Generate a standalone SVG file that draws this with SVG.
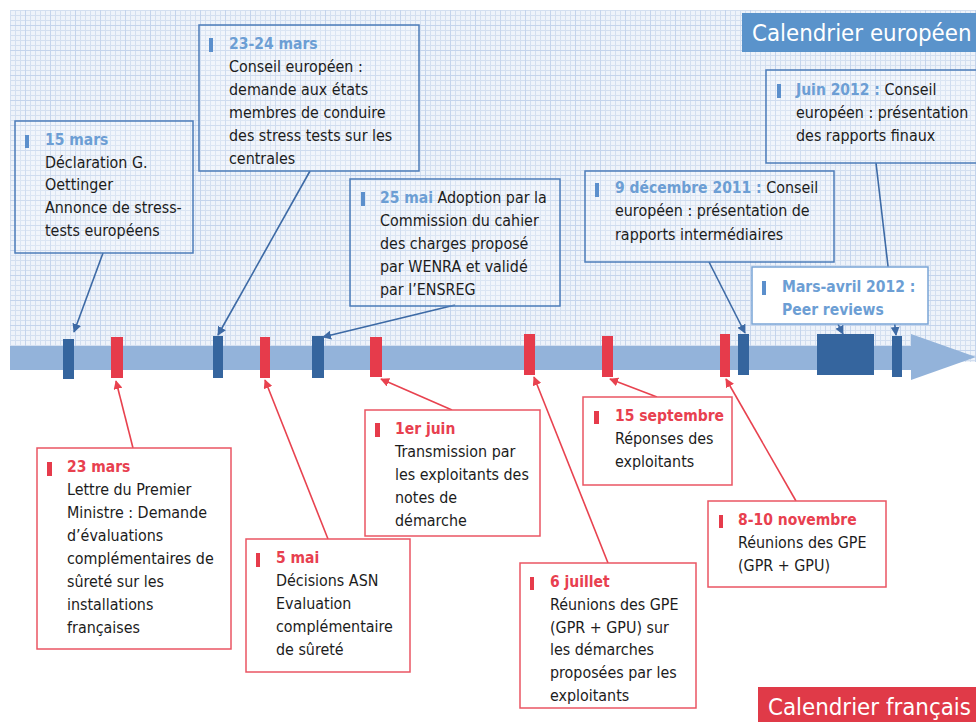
<svg xmlns="http://www.w3.org/2000/svg" width="976" height="722" viewBox="0 0 976 722">
<style>
.t{font-family:"DejaVu Sans Condensed","DejaVu Sans",sans-serif;font-size:15.9px;fill:#1c1c1c}
.db{font-weight:bold;fill:#6c9ed4;font-size:15.5px}
.dr{font-weight:bold;fill:#e8404f;font-size:15.5px}
.bb{fill:#5b8fcc}
.br{fill:#e63b4b}
.boxb{fill:#ffffff;fill-opacity:0.2;stroke:#4c7cb9;stroke-width:1.5}
.boxr{fill:#ffffff;stroke:#ea5563;stroke-width:1.5}
.mb{fill:#35659e}
.mr{fill:#e63b4b}
.cb{stroke:#3d6aa5;stroke-width:1.6;fill:none;marker-end:url(#ab)}
.cr{stroke:#e8424f;stroke-width:1.6;fill:none;marker-end:url(#ar)}
.hd{font-family:"DejaVu Sans Condensed","DejaVu Sans",sans-serif;font-size:23.8px;fill:#ffffff}
</style>
<defs>
<pattern id="g" width="5" height="5" patternUnits="userSpaceOnUse">
<rect width="5" height="5" fill="#eef3fa"/>
<path d="M0,0.5 H5 M0.5,0 V5" stroke="#d3dff0" stroke-width="1"/>
</pattern>
<pattern id="g2" width="25" height="25" patternUnits="userSpaceOnUse">
<path d="M0,0.5 H25 M0.5,0 V25" stroke="#c4d4ec" stroke-width="1"/>
</pattern>
<marker id="ab" viewBox="0 0 10 10" refX="9" refY="5" markerWidth="9" markerHeight="9" markerUnits="userSpaceOnUse" orient="auto">
<path d="M0,0 L10,5 L0,10 z" fill="#3d6aa5"/>
</marker>
<marker id="ar" viewBox="0 0 10 10" refX="9" refY="5" markerWidth="9" markerHeight="9" markerUnits="userSpaceOnUse" orient="auto">
<path d="M0,0 L10,5 L0,10 z" fill="#e8424f"/>
</marker>
</defs>
<rect width="976" height="722" fill="#ffffff"/>
<rect x="10" y="10" width="966" height="352" fill="url(#g)"/>
<rect x="10" y="10" width="966" height="352" fill="url(#g2)"/>

<g id="timeline">
<rect x="10" y="346" width="902" height="24" fill="#93b3da"/>
<polygon points="911,334 976,357 911,380" fill="#93b3da"/>
<rect class="mb" x="63" y="339" width="11" height="40"/>
<rect class="mb" x="213" y="336" width="10" height="42"/>
<rect class="mb" x="312" y="336" width="12" height="42"/>
<rect class="mb" x="738" y="334" width="11" height="41"/>
<rect class="mb" x="817" y="334" width="57" height="41"/>
<rect class="mb" x="892" y="336" width="10" height="41"/>
<rect class="mr" x="111" y="337" width="12" height="41"/>
<rect class="mr" x="260" y="337" width="10" height="41"/>
<rect class="mr" x="370" y="337" width="12" height="40"/>
<rect class="mr" x="524" y="334" width="11" height="41"/>
<rect class="mr" x="602" y="336" width="11" height="41"/>
<rect class="mr" x="720" y="334" width="10" height="43"/>
</g>

<g id="connectors">
<line class="cb" x1="103" y1="253" x2="74" y2="332"/>
<line class="cb" x1="310" y1="171" x2="218" y2="335"/>
<line class="cb" x1="455" y1="305" x2="323" y2="337"/>
<line class="cb" x1="709" y1="262" x2="745" y2="333"/>
<line class="cb" x1="876" y1="163" x2="896" y2="335"/>
<line class="cb" x1="838" y1="324" x2="843" y2="334"/>
<line class="cr" x1="133" y1="448" x2="116" y2="381"/>
<line class="cr" x1="328" y1="539" x2="265" y2="380"/>
<line class="cr" x1="452" y1="410" x2="381" y2="379"/>
<line class="cr" x1="608" y1="563" x2="534" y2="377"/>
<line class="cr" x1="657" y1="397" x2="610" y2="379"/>
<line class="cr" x1="796" y1="501" x2="726" y2="379"/>
</g>

<g id="header-eu">
<rect x="742" y="13" width="240" height="39" fill="#5a93cb"/>
<text class="hd" x="752" y="41">Calendrier européen</text>
</g>

<g id="n-15mars">
<rect class="boxb" x="15" y="121" width="178" height="132"/>
<rect class="bb" x="25" y="135" width="4" height="13"/>
<text class="t" x="45" y="145"><tspan class="db">15 mars</tspan><tspan x="45" dy="22.7">Déclaration G.</tspan><tspan x="45" dy="22.7">Oettinger</tspan><tspan x="45" dy="22.7">Annonce de stress-</tspan><tspan x="45" dy="22.7">tests européens</tspan></text>
</g>

<g id="n-2324mars">
<rect class="boxb" x="199" y="25" width="220" height="146"/>
<rect class="bb" x="209" y="38" width="4" height="14"/>
<text class="t" x="229" y="49"><tspan class="db">23-24 mars</tspan><tspan x="229" dy="23">Conseil européen :</tspan><tspan x="229" dy="23">demande aux états</tspan><tspan x="229" dy="23">membres de conduire</tspan><tspan x="229" dy="23">des stress tests sur les</tspan><tspan x="229" dy="23">centrales</tspan></text>
</g>

<g id="n-25mai">
<rect class="boxb" x="350" y="179" width="210" height="127"/>
<rect class="bb" x="361" y="192" width="4" height="14"/>
<text class="t" x="380" y="203"><tspan class="db">25 mai</tspan> Adoption par la<tspan x="380" dy="23">Commission du cahier</tspan><tspan x="380" dy="23">des charges proposé</tspan><tspan x="380" dy="23">par WENRA et validé</tspan><tspan x="380" dy="23">par l’ENSREG</tspan></text>
</g>

<g id="n-9dec">
<rect class="boxb" x="585" y="171" width="249" height="91"/>
<rect class="bb" x="595" y="183" width="4" height="14"/>
<text class="t" x="615" y="193"><tspan class="db">9 décembre 2011 :</tspan> Conseil<tspan x="615" dy="23.3">européen : présentation de</tspan><tspan x="615" dy="23.3">rapports intermédiaires</tspan></text>
</g>

<g id="n-juin2012">
<rect class="boxb" x="766" y="70" width="220" height="93"/>
<rect class="bb" x="777" y="84" width="4" height="14"/>
<text class="t" x="796" y="95"><tspan class="db">Juin 2012 :</tspan> Conseil<tspan x="796" dy="23">européen : présentation</tspan><tspan x="796" dy="23">des rapports finaux</tspan></text>
</g>

<g id="n-marsavril">
<rect x="752" y="267" width="176" height="57" fill="#ffffff" stroke="#7aa5d6" stroke-width="1.5"/>
<rect class="bb" x="762" y="281" width="4" height="14"/>
<text class="t" x="782" y="292"><tspan class="db">Mars-avril 2012 :</tspan><tspan class="db" x="782" dy="22.5">Peer reviews</tspan></text>
</g>

<g id="n-23mars">
<rect class="boxr" x="37" y="448" width="194" height="201"/>
<rect class="br" x="47" y="462" width="5" height="14"/>
<text class="t" x="67" y="472"><tspan class="dr">23 mars</tspan><tspan x="67" dy="23">Lettre du Premier</tspan><tspan x="67" dy="23">Ministre : Demande</tspan><tspan x="67" dy="23">d’évaluations</tspan><tspan x="67" dy="23">complémentaires de</tspan><tspan x="67" dy="23">sûreté sur les</tspan><tspan x="67" dy="23">installations</tspan><tspan x="67" dy="23">françaises</tspan></text>
</g>

<g id="n-5mai">
<rect class="boxr" x="246" y="539" width="164" height="133"/>
<rect class="br" x="256" y="553" width="4" height="14"/>
<text class="t" x="276" y="563"><tspan class="dr">5 mai</tspan><tspan x="276" dy="23">Décisions ASN</tspan><tspan x="276" dy="23">Evaluation</tspan><tspan x="276" dy="23">complémentaire</tspan><tspan x="276" dy="23">de sûreté</tspan></text>
</g>

<g id="n-1erjuin">
<rect class="boxr" x="365" y="410" width="175" height="126"/>
<rect class="br" x="375" y="423" width="5" height="14"/>
<text class="t" x="395" y="434"><tspan class="dr">1er juin</tspan><tspan x="395" dy="23">Transmission par</tspan><tspan x="395" dy="23">les exploitants des</tspan><tspan x="395" dy="23">notes de</tspan><tspan x="395" dy="23">démarche</tspan></text>
</g>

<g id="n-6juillet">
<rect class="boxr" x="520" y="563" width="176" height="145"/>
<rect class="br" x="530" y="577" width="4" height="13"/>
<text class="t" x="550" y="587"><tspan class="dr">6 juillet</tspan><tspan x="550" dy="22.8">Réunions des GPE</tspan><tspan x="550" dy="22.8">(GPR + GPU) sur</tspan><tspan x="550" dy="22.8">les démarches</tspan><tspan x="550" dy="22.8">proposées par les</tspan><tspan x="550" dy="22.8">exploitants</tspan></text>
</g>

<g id="n-15sept">
<rect class="boxr" x="583" y="397" width="149" height="88"/>
<rect class="br" x="594" y="411" width="5" height="13"/>
<text class="t" x="615" y="421"><tspan class="dr">15 septembre</tspan><tspan x="615" dy="23">Réponses des</tspan><tspan x="615" dy="23">exploitants</tspan></text>
</g>

<g id="n-810nov">
<rect class="boxr" x="708" y="501" width="178" height="86"/>
<rect class="br" x="719" y="515" width="4" height="13"/>
<text class="t" x="738" y="525"><tspan class="dr">8-10 novembre</tspan><tspan x="738" dy="23">Réunions des GPE</tspan><tspan x="738" dy="23">(GPR + GPU)</tspan></text>
</g>

<g id="header-fr">
<rect x="758" y="687" width="230" height="40" fill="#e03a48"/>
<text class="hd" x="768" y="715">Calendrier français</text>
</g>
</svg>
